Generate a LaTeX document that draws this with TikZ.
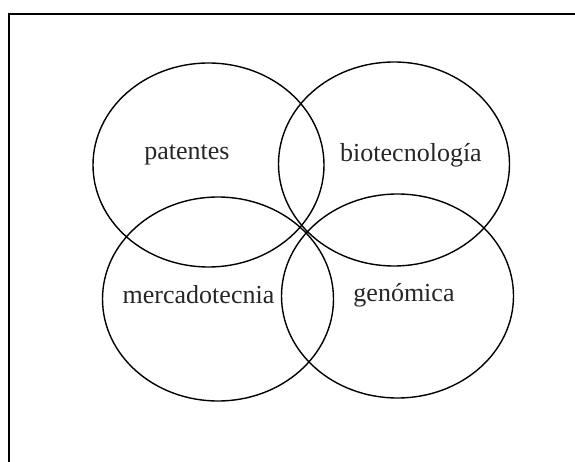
\documentclass[tikz,border=0pt]{standalone}
\usepackage{fontspec}
\setmainfont{Liberation Serif}
\begin{document}
\begin{tikzpicture}[x=1pt,y=-1pt,
  setring/.style={draw=black,line width=1.4pt},
  setlabel/.style={font=\fontsize{26}{30}\selectfont,text=black!85,inner sep=0pt}]
\useasboundingbox (0,0) rectangle (575,462);
% open frame: only the left and top sides lie inside the page
\draw[line width=2pt] (9,470) -- (9,14) -- (580,14);
% the four overlapping sets
\draw[setring] (208.5,165) ellipse [x radius=115.5, y radius=102];
\draw[setring] (394,164) ellipse [x radius=115.5, y radius=102];
\draw[setring] (218,299) ellipse [x radius=115.5, y radius=102];
\draw[setring] (397.5,296) ellipse [x radius=116, y radius=102];
% labels
\node[setlabel] (pat) at (187,155) {patentes};
\node[setlabel] (bio) at (411,155) {biotecnología};
\node[setlabel] (mer) at (198.5,295) {mercadotecnia};
\node[setlabel] (gen) at (404,295) {genómica};
\end{tikzpicture}
\end{document}
